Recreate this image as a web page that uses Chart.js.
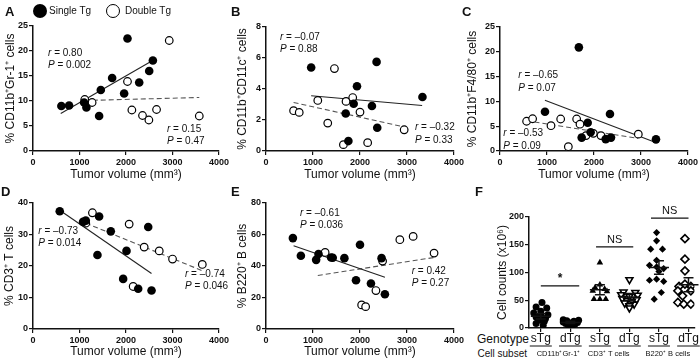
<!DOCTYPE html>
<html>
<head>
<meta charset="utf-8">
<script src="https://cdn.jsdelivr.net/npm/chart.js@4.4.1/dist/chart.umd.min.js"></script>
<style>
  body { margin: 0; background: #fff; width: 700px; height: 364px; position: relative; overflow: hidden;
         font-family: Arial, "Liberation Sans", sans-serif; color: #111; }
  canvas { position: absolute; }
  #cF { z-index: 3; }
  .letter { position: absolute; font-weight: bold; font-size: 13px; line-height: 13px; }
  .leg { position: absolute; font-size: 10px; line-height: 10px; }
  .dot { position: absolute; width: 14px; height: 14px; border-radius: 50%; box-sizing: border-box; }
  .rowlab { position: absolute; text-align: right; white-space: nowrap; }
</style>
</head>
<body>
<canvas id="cA"></canvas>
<canvas id="cB"></canvas>
<canvas id="cC"></canvas>
<canvas id="cD"></canvas>
<canvas id="cE"></canvas>
<canvas id="cF"></canvas>

<div class="letter" style="left:5px;top:5px">A</div>
<div class="letter" style="left:231px;top:5px">B</div>
<div class="letter" style="left:462px;top:5px">C</div>
<div class="letter" style="left:1px;top:185px">D</div>
<div class="letter" style="left:231px;top:185px">E</div>
<div class="letter" style="left:475px;top:185px">F</div>

<div class="dot" style="left:33px;top:4px;background:#000"></div>
<div class="leg" style="left:49px;top:6px">Single Tg</div>
<div class="dot" style="left:106px;top:4px;border:1.5px solid #000;background:#fff"></div>
<div class="leg" style="left:125px;top:6px">Double Tg</div>

<div class="rowlab" style="right:171px;top:333px;font-size:12px;line-height:12px">Genotype</div>
<div class="rowlab" style="right:173px;top:349px;font-size:10px;line-height:10px">Cell subset</div>
<div id="tick" style="position:absolute;left:0;top:0;width:1px;height:1px"></div>

<script>
Chart.defaults.font.family = 'Arial, "Liberation Sans", sans-serif';
Chart.defaults.color = '#111';

// ---- A: CD11b+Gr-1+ ----
const aSingleX = [610, 776, 1099, 1149, 1422, 1458, 1702, 1960, 2032, 2284, 2499, 2578];
const aSingleY = [9.0, 9.1, 9.7, 8.7, 7.0, 12.2, 14.6, 11.5, 22.5, 13.7, 16.0, 18.1];
const aDoubleX = [1113, 1271, 2032, 2126, 2355, 2492, 2657, 2930, 3576];
const aDoubleY = [10.3, 9.7, 13.9, 8.2, 7.1, 6.2, 8.3, 22.1, 7.0];
const aFitSingle = [[596, 7.5], [2592, 18.2]];
const aFitDouble = [[1113, 10.1], [3576, 10.7]];
const aStats = [{r: '0.80', p: '0.002'}, {r: '0.15', p: '0.47'}];

// ---- B: CD11b+CD11c+ ----
const bSingleX = [961, 2353, 1936, 3329, 1866, 2254, 1696, 2367, 1753];
const bSingleY = [5.39, 5.75, 4.18, 3.48, 3.05, 2.90, 2.42, 1.50, 0.64];
const bDoubleX = [1456, 1102, 1703, 1845, 587, 707, 2000, 1314, 1647, 2163, 2940];
const bDoubleY = [5.32, 3.26, 3.20, 3.45, 2.60, 2.49, 2.51, 1.80, 0.41, 0.54, 1.37];
const bFitSingle = [[961, 3.56], [3322, 2.94]];
const bFitDouble = [[587, 3.13], [2989, 1.52]];
const bStats = [{r: '–0.07', p: '0.88'}, {r: '–0.32', p: '0.33'}];

// ---- C: CD11b+F4/80+ ----
const cSingleX = [957, 1678, 1866, 2340, 1929, 1738, 2249, 2362, 3319];
const cSingleY = [7.9, 20.9, 5.7, 7.45, 3.77, 2.7, 2.4, 2.7, 2.35];
const cDoubleX = [566, 694, 1085, 1291, 1631, 1702, 1454, 1986, 1830, 2149, 2943];
const cDoubleY = [6.0, 6.5, 5.1, 6.45, 6.45, 5.4, 0.87, 3.56, 3.1, 3.1, 3.4];
const cFitSingle = [[956, 10.25], [3313, 1.7]];
const cFitDouble = [[566, 6.1], [2938, 2.55]];
const cStats = [{r: '–0.65', p: '0.07'}, {r: '–0.53', p: '0.09'}];

// ---- D: CD3+ T cells ----
const dSingleX = [575, 1077, 1135, 1422, 1673, 1386, 2011, 2478, 1939, 2262, 2549];
const dSingleY = [37.4, 34.0, 34.4, 35.7, 31.0, 23.5, 24.8, 32.4, 15.9, 12.8, 12.2];
const dDoubleX = [1278, 1135, 2068, 2391, 2715, 3001, 3641, 2154];
const dDoubleY = [36.9, 33.6, 33.3, 26.0, 24.8, 22.2, 20.5, 13.5];
const dFitSingle = [[575, 37.7], [2549, 17.6]];
const dFitDouble = [[1135, 33.6], [3641, 18.5]];
const dStats = [{r: '–0.73', p: '0.014'}, {r: '–0.74', p: '0.046'}];

// ---- E: B220+ B cells ----
const eSingleX = [572, 742, 1067, 1117, 1385, 1420, 1668, 2000, 1915, 2233, 2459, 2530];
const eSingleY = [57.7, 46.5, 43.9, 47.6, 45.4, 45.2, 45.0, 53.5, 31.0, 28.9, 45.0, 22.1];
const eDoubleX = [1258, 2481, 2848, 3131, 3576, 2339, 2035, 2120];
const eDoubleY = [48.6, 43.1, 56.7, 58.8, 48.2, 24.4, 15.3, 14.2];
const eFitSingle = [[587, 52.9], [2530, 32.9]];
const eFitDouble = [[1102, 34.0], [3576, 45.4]];
const eStats = [{r: '–0.61', p: '0.036'}, {r: '0.42', p: '0.27'}];

// ---- F: cell counts ----
const fGenotypes = ['sTg', 'dTg', 'sTg', 'dTg', 'sTg', 'dTg'];
const fSubsets = ['CD11b⁺Gr-1⁺', 'CD3⁺ T cells', 'B220⁺ B cells'];
const fValues = [
  [46, 38, 36, 30, 27, 24, 22, 20, 17, 14, 12, 8, 5],
  [15, 14, 13, 12, 11, 10, 9, 8, 7, 6, 5],
  [118, 78, 73, 70, 67, 66, 52, 52, 52],
  [87, 65, 64, 60, 59, 57, 53, 51, 50, 48, 45, 43, 40, 36],
  [172, 157, 142, 142, 122, 113, 110, 107, 102, 86, 88, 84, 64, 52],
  [161, 124, 103, 79, 75, 75, 67, 67, 58, 46, 43, 43]
];
const fMeans = [21, 10, 69, 56, 109, 78];
const fSem = [5, 2, 9, 6, 12, 12.5];
const fTests = ['*', 'NS', 'NS'];
const fTestLevels = [76, 146, 198];

// layout: x jitter of the swarm (category units) and where things sit
const fPos = [1, 2, 3, 4, 5, 6];
const fJitter = [
  [0.05, -0.2, 0.25, 0, -0.3, 0.3, 0, -0.2, 0.2, -0.1, 0.15, -0.2, 0.1],
  [-0.3, 0.35, -0.15, 0.15, -0.3, 0.3, 0, -0.2, 0.2, -0.1, 0.1],
  [0, 0, -0.2, 0.2, -0.3, 0.3, -0.25, 0, 0.25],
  [0, -0.25, 0.25, -0.35, 0.35, 0, -0.3, 0.3, -0.1, 0.1, -0.2, 0.2, 0, 0],
  [-0.1, -0.1, -0.35, 0.15, -0.1, -0.4, -0.1, 0.2, 0, -0.4, -0.1, 0.2, 0.1, -0.2],
  [-0.15, -0.15, -0.15, -0.15, -0.4, 0.1, -0.45, 0.1, -0.25, -0.45, -0.2, 0.1]
];
const fBracketX = [[1.0, 2.3], [2.87, 4.13], [4.73, 6.0]];
const fSubsetX = [1.6, 3.3, 5.3];

const statPos = {
  A: [[323, 19.6], [2882, 4.4]],
  B: [[298, 7.37], [3170, 1.53]],
  C: [[389, 15.2], [70, 3.57]],
  D: [[114, 31.1], [3269, 17.5]],
  E: [[723, 73.8], [3100, 36.8]]
};

const FONT = 'Arial, "Liberation Sans", sans-serif';

function pts(xs, ys) { return xs.map((x, i) => ({x: x, y: ys[i]})); }
function fitPts(f) { return f.map(p => ({x: p[0], y: p[1]})); }

function axis(min, max, step, size, title, titlePad, tickPad) {
  return {
    type: 'linear', min: min, max: max,
    ticks: {stepSize: step, color: '#111', font: {size: 9, weight: 'bold'}, padding: tickPad,
            autoSkip: false, callback: v => String(v)},
    grid: {drawOnChartArea: false, color: '#111', lineWidth: 1.2, tickLength: 4},
    border: {color: '#111', width: 1.5},
    title: {display: true, text: title, color: '#111', font: {size: 12}, padding: titlePad},
    afterFit: size
  };
}

function place(id, box) {
  const c = document.getElementById(id);
  c.width = box.w; c.height = box.h;
  c.style.left = box.l + 'px'; c.style.top = box.t + 'px';
  // plain (cpu) canvas, read back after drawing
  c.getContext('2d', {willReadFrequently: true});
  return c;
}

// reading a pixel back makes sure the canvas is flushed before the picture
const flush = {
  id: 'flush',
  afterDraw(chart) { chart.ctx.getImageData(0, 0, 1, 1); }
};

// ---- panel F ----
const fStyles = [
  {pointStyle: 'circle', pointRadius: 3.5, pointBorderWidth: 0, backgroundColor: '#000', pointRotation: 0},
  {pointStyle: 'circle', pointRadius: 3.5, pointBorderWidth: 0, backgroundColor: '#000', pointRotation: 0},
  {pointStyle: 'triangle', pointRadius: 3.8, pointBorderWidth: 0, backgroundColor: '#000', pointRotation: 0},
  {pointStyle: 'triangle', pointRadius: 4, pointBorderWidth: 1.6, backgroundColor: '#fff', pointRotation: 180},
  {pointStyle: 'rectRot', pointRadius: 3.6, pointBorderWidth: 0, backgroundColor: '#000', pointRotation: 0},
  {pointStyle: 'rectRot', pointRadius: 4, pointBorderWidth: 1.6, backgroundColor: '#fff', pointRotation: 0}
];

const fExtras = {
  id: 'fExtras',
  afterDatasetsDraw(chart) {
    const ctx = chart.ctx, xs = chart.scales.x, ys = chart.scales.y, area = chart.chartArea;
    ctx.save();
    ctx.strokeStyle = '#111';
    ctx.lineWidth = 1.5;
    fMeans.forEach((m, i) => {
      const cx = xs.getPixelForValue(fPos[i]);
      const ym = ys.getPixelForValue(m);
      const yHi = ys.getPixelForValue(m + fSem[i]);
      const yLo = ys.getPixelForValue(m - fSem[i]);
      ctx.beginPath();
      ctx.moveTo(cx - 10, ym); ctx.lineTo(cx + 10, ym);
      ctx.moveTo(cx, yHi); ctx.lineTo(cx, yLo);
      ctx.moveTo(cx - 5, yHi); ctx.lineTo(cx + 5, yHi);
      ctx.moveTo(cx - 5, yLo); ctx.lineTo(cx + 5, yLo);
      ctx.stroke();
    });

    // significance brackets
    ctx.fillStyle = '#111';
    ctx.textAlign = 'center';
    ctx.textBaseline = 'bottom';
    fTests.forEach((t, i) => {
      const x1 = xs.getPixelForValue(fBracketX[i][0]);
      const x2 = xs.getPixelForValue(fBracketX[i][1]);
      const y = ys.getPixelForValue(fTestLevels[i]);
      ctx.lineWidth = 1.3;
      ctx.beginPath(); ctx.moveTo(x1, y); ctx.lineTo(x2, y); ctx.stroke();
      ctx.font = (t === '*' ? 'bold 12px ' : '11px ') + FONT;
      ctx.fillText(t, (x1 + x2) / 2, t === '*' ? y - 1 : y - 2);
    });

    // genotype row
    const gy = area.bottom + 11;
    ctx.textBaseline = 'middle';
    ctx.font = '12px ' + FONT;
    ctx.lineWidth = 1;
    fGenotypes.forEach((g, i) => {
      const cx = xs.getPixelForValue(fPos[i]);
      ctx.fillText(g, cx, gy);
      const w = ctx.measureText(g).width;
      ctx.beginPath(); ctx.moveTo(cx - w / 2 - 1, gy + 7); ctx.lineTo(cx + w / 2 + 1, gy + 7); ctx.stroke();
    });

    // cell subset row
    const sy = area.bottom + 26;
    ctx.font = '7.5px ' + FONT;
    fSubsets.forEach((s, i) => {
      ctx.fillText(s, xs.getPixelForValue(fSubsetX[i]), sy);
    });
    ctx.restore();
  }
};

(function () {
  const box = {l: 490, t: 205, w: 210, h: 159}, area = {l: 529, t: 217, r: 697, b: 328};
  const c = place('cF', box);
  const xH = 36, yW = area.l - box.l;
  new Chart(c, {
    type: 'scatter',
    data: {
      datasets: fValues.map((vals, i) => Object.assign({
        data: vals.map((v, j) => ({x: fPos[i] + fJitter[i][j] * 0.8, y: v})),
        borderColor: '#000'
      }, fStyles[i]))
    },
    options: {
      responsive: false, animation: false, events: [],
      layout: {padding: {left: 0, top: area.t - box.t, right: box.l + box.w - area.r, bottom: box.t + box.h - area.b - xH}},
      plugins: {legend: {display: false}, tooltip: {enabled: false}},
      scales: {
        x: {
          type: 'linear', min: 0.6, max: 6.2,
          afterBuildTicks: s => { s.ticks = fPos.map(v => ({value: v})); },
          ticks: {callback: () => '', font: {size: 2}, padding: 0},
          grid: {drawOnChartArea: false, color: '#111', lineWidth: 1.2, tickLength: 4},
          border: {color: '#111', width: 1.5},
          afterFit: s => { s.height = xH; }
        },
        y: axis(0, 200, 50, s => { s.width = yW; }, 'Cell counts (x10⁶)', {top: 503 - box.l - 7.2, bottom: 0}, 1)
      }
    },
    plugins: [fExtras, flush]
  });
})();

// ---- scatter panels A-E ----
function statsPlugin(stats, pos) {
  return {
    id: 'stats',
    afterDatasetsDraw(chart) {
      const ctx = chart.ctx, xs = chart.scales.x, ys = chart.scales.y;
      ctx.save();
      ctx.fillStyle = '#111';
      ctx.textBaseline = 'middle';
      ctx.textAlign = 'left';
      stats.forEach((s, i) => {
        const px = xs.getPixelForValue(pos[i][0]);
        const py = ys.getPixelForValue(pos[i][1]);
        [['r', ' = ' + s.r], ['P', ' = ' + s.p]].forEach((row, j) => {
          ctx.font = 'italic 10px ' + FONT;
          ctx.fillText(row[0], px, py + j * 12.5);
          const w = ctx.measureText(row[0]).width;
          ctx.font = '10px ' + FONT;
          ctx.fillText(row[1], px + w, py + j * 12.5);
        });
      });
      ctx.restore();
    }
  };
}

function scatterPanel(p) {
  const c = place(p.id, p.box);
  const xH = 33, yW = p.area.l - p.box.l;
  const xPadB = p.area.b + xH - 7.2 - p.xTitleY;
  const yPadT = p.yTitleX - p.box.l - 7.2;
  new Chart(c, {
    type: 'scatter',
    data: {
      datasets: [
        {data: pts(p.sx, p.sy), pointRadius: 4.3, pointBorderWidth: 0, backgroundColor: '#000', borderColor: '#000', order: 1},
        {data: pts(p.dx, p.dy), pointRadius: 3.8, pointBorderWidth: 1.2, backgroundColor: '#fff', borderColor: '#000', order: 1},
        {data: fitPts(p.fs), showLine: true, pointRadius: 0, borderColor: '#222', borderWidth: 1.1, order: 2},
        {data: fitPts(p.fd), showLine: true, pointRadius: 0, borderColor: '#555', borderWidth: 1.1, borderDash: [5, 3], order: 2}
      ]
    },
    options: {
      responsive: false, animation: false, events: [],
      layout: {padding: {left: 0, top: p.area.t - p.box.t, right: p.box.l + p.box.w - p.area.r,
                         bottom: p.box.t + p.box.h - p.area.b - xH}},
      plugins: {legend: {display: false}, tooltip: {enabled: false}},
      scales: {
        x: axis(0, 4000, 1000, s => { s.height = xH; }, 'Tumor volume (mm³)', {top: 0, bottom: xPadB}, 2),
        y: axis(0, p.yMax, p.yStep, s => { s.width = yW; }, p.yTitle, {top: yPadT, bottom: 0}, 1)
      }
    },
    plugins: [statsPlugin(p.stats, p.statPos), flush]
  });
}

scatterPanel({id: 'cA', box: {l: 0, t: 14, w: 234, h: 172}, area: {l: 33, t: 26, r: 219, b: 151},
  xTitleY: 175, yTitleX: 11, yMax: 25, yStep: 5, yTitle: '% CD11b⁺Gr-1⁺ cells',
  sx: aSingleX, sy: aSingleY, dx: aDoubleX, dy: aDoubleY, fs: aFitSingle, fd: aFitDouble, stats: aStats, statPos: statPos.A});
scatterPanel({id: 'cB', box: {l: 230, t: 14, w: 236, h: 172}, area: {l: 266, t: 27, r: 454, b: 151},
  xTitleY: 175, yTitleX: 243, yMax: 8, yStep: 2, yTitle: '% CD11b⁺CD11c⁺ cells',
  sx: bSingleX, sy: bSingleY, dx: bDoubleX, dy: bDoubleY, fs: bFitSingle, fd: bFitDouble, stats: bStats, statPos: statPos.B});
scatterPanel({id: 'cC', box: {l: 462, t: 14, w: 238, h: 172}, area: {l: 500, t: 27, r: 688, b: 151},
  xTitleY: 175, yTitleX: 473, yMax: 25, yStep: 5, yTitle: '% CD11b⁺F4/80⁺ cells',
  sx: cSingleX, sy: cSingleY, dx: cDoubleX, dy: cDoubleY, fs: cFitSingle, fd: cFitDouble, stats: cStats, statPos: statPos.C});
scatterPanel({id: 'cD', box: {l: 0, t: 190, w: 234, h: 174}, area: {l: 33, t: 203, r: 219, b: 329},
  xTitleY: 352, yTitleX: 10, yMax: 40, yStep: 10, yTitle: '% CD3⁺ T cells',
  sx: dSingleX, sy: dSingleY, dx: dDoubleX, dy: dDoubleY, fs: dFitSingle, fd: dFitDouble, stats: dStats, statPos: statPos.D});
scatterPanel({id: 'cE', box: {l: 230, t: 190, w: 236, h: 174}, area: {l: 266, t: 203, r: 454, b: 329},
  xTitleY: 352, yTitleX: 243, yMax: 80, yStep: 20, yTitle: '% B220⁺ B cells',
  sx: eSingleX, sy: eSingleY, dx: eDoubleX, dy: eDoubleY, fs: eFitSingle, fd: eFitDouble, stats: eStats, statPos: statPos.E});

// one late style change so the page is painted again after all charts are drawn
setTimeout(() => { document.getElementById('tick').style.left = '1px'; }, 50);
</script>
</body>
</html>
